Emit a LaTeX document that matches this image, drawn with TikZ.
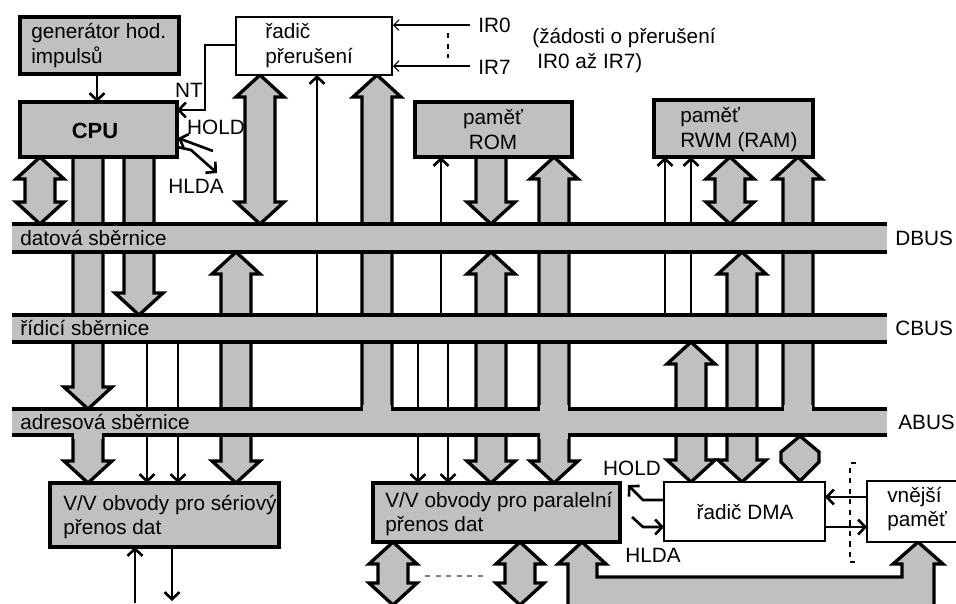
\documentclass[tikz,border=0pt]{standalone}
\usepackage{fontspec}
\setmainfont{Liberation Sans}
\usetikzlibrary{arrows.meta}
\definecolor{kBus}{RGB}{192,192,192}
\tikzset{
  fatline/.style={line width=1.9pt, line join=miter},
  busline/.style={line width=1.8pt},
  boxgray/.style={draw, line width=1.9pt, fill=kBus},
  boxwhite/.style={draw, line width=1.1pt, fill=white},
  sig/.style={line width=1.5pt, -{Straight Barb[length=4pt,width=8.5pt,line width=1.5pt]}},
  irsig/.style={line width=0.6pt, -{Straight Barb[length=3pt,width=6pt,line width=0.6pt]}},
  lbl/.style={inner sep=0pt, font=\fontsize{11.8}{14.2}\selectfont, align=left},
}
% fat arrow with one head: x, y of tail, y of head
\newcommand\fatone[3]{%
  \pgfmathsetmacro\hb{#3>#2 ? #3-22 : #3+22}
  \fill[kBus] (#1-15,#2) -- (#1-15,\hb) -- (#1-24,\hb) -- (#1,#3) -- (#1+24,\hb) -- (#1+15,\hb) -- (#1+15,#2) -- cycle;
  \draw[fatline] (#1-15,#2) -- (#1-15,\hb) -- (#1-24,\hb) -- (#1,#3) -- (#1+24,\hb) -- (#1+15,\hb) -- (#1+15,#2);
}
% fat arrow with two heads: x, y top, y bottom
\newcommand\fatboth[3]{%
  \filldraw[fatline, fill=kBus] (#1,#2) -- (#1+24,#2+22) -- (#1+15,#2+22) -- (#1+15,#3-22) -- (#1+24,#3-22) -- (#1,#3)
    -- (#1-24,#3-22) -- (#1-15,#3-22) -- (#1-15,#2+22) -- (#1-24,#2+22) -- cycle;
}
% bus band: y top, y bottom
\newcommand\drawbus[2]{%
  \fill[kBus] (12,#1) rectangle (887,#2);
  \draw[busline] (12,#1) -- (887,#1) (12,#2) -- (887,#2);
}
% fat arrow joining a bus line: x, y of the line
\newcommand\busjoin[2]{\fill[kBus] (#1-13.7,#2-4) rectangle (#1+13.7,#2+4);}
\begin{document}
\begin{tikzpicture}[x=0.02cm,y=-0.02cm]
  \useasboundingbox (0,0) rectangle (956,603);
  \clip (0,0) rectangle (956,603);
  \fill[white] (0,0) rectangle (956,603);

  % control lines from the CBUS
  \foreach \x/\ya/\yb in {317/315/75, 441/315/157, 665/315/157, 691/315/157,
                          147/342/483, 178/342/483, 418/342/483, 448/342/483}
    \draw[sig] (\x,\ya) -- (\x,\yb);

  % fat arrows
  \fatboth{40}{157}{224}
  \fatone{88}{157}{409}
  \fatone{139}{157}{315}
  \fatboth{260}{75}{224}
  \fatone{377}{409}{75}
  \fatone{491}{157}{224}
  \fatone{554}{409}{157}
  \fatboth{730}{157}{224}
  \fatone{798}{409}{157}
  \fatboth{236}{252}{483}
  \fatboth{491}{252}{483}
  \fatboth{742}{252}{482}
  \fatboth{691}{342}{482}
  \fatone{88}{435}{483}
  \fatone{554}{435}{483}
  \filldraw[fatline, fill=kBus] (800,436) -- (819,452) -- (819,462) -- (800,481) -- (781,462) -- (781,452) -- cycle;
  \fatboth{393}{542}{605}
  \fatboth{520}{542}{605}
  \fill[kBus] (568,620) -- (568,564) -- (558,564) -- (582,542) -- (606,564) -- (597,564) -- (597,577) -- (902,577)
    -- (902,564) -- (893,564) -- (918,542) -- (943,564) -- (934,564) -- (934,620) -- cycle;
  \draw[fatline] (568,620) -- (568,564) -- (558,564) -- (582,542) -- (606,564) -- (597,564) -- (597,577) -- (902,577)
    -- (902,564) -- (893,564) -- (918,542) -- (943,564) -- (934,564) -- (934,620);
  \draw[dashed, gray, line width=0.8pt] (425,576) -- (488,576);

  % buses
  \drawbus{224}{252}
  \drawbus{315}{342}
  \drawbus{409}{435}
  \busjoin{377}{409} \busjoin{554}{409} \busjoin{798}{409}
  \busjoin{88}{435} \busjoin{554}{435}

  \node[lbl, anchor=west] (dname) at (20,238) {datová sběrnice};
  \node[lbl, anchor=west] (cname) at (20,328) {řídicí sběrnice};
  \node[lbl, anchor=west] (aname) at (20,422) {adresová sběrnice};
  \node[lbl, anchor=west] (dbus) at (895,238) {DBUS};
  \node[lbl, anchor=west] (cbus) at (895,328) {CBUS};
  \node[lbl, anchor=west] (abus) at (898,422) {ABUS};

  % blocks
  \draw[boxgray] (20,17) rectangle (179,74);
  \draw[boxgray] (20,102) rectangle (177,157);
  \draw[boxwhite] (236,17) rectangle (392,75);
  \draw[boxgray] (415,102) rectangle (572,157);
  \draw[boxgray] (654,100) rectangle (813,157);
  \draw[boxgray] (50,483) rectangle (279,547);
  \draw[boxgray] (373,483) rectangle (620,542);
  \draw[boxwhite] (664,482) rectangle (825,541);
  \draw[boxwhite] (867,481) rectangle (975,542);

  \node[lbl, anchor=west] (gen) at (31,45.5) {generátor hod.\\impulsů};
  \node[lbl, font=\fontsize{12.5}{14.2}\selectfont\bfseries] (cpu) at (95,131) {CPU};
  \node[lbl, anchor=west] (intc) at (265,45.5) {řadič\\přerušení};
  \node[lbl, align=center] (rom) at (493,130) {paměť\\ROM};
  \node[lbl, anchor=west] (ram) at (680,130) {paměť\\RWM (RAM)};
  \node[lbl, anchor=west] (serio) at (63,517) {V/V obvody pro sériový\\přenos dat};
  \node[lbl, anchor=west] (pario) at (385,514) {V/V obvody pro paralelní\\přenos dat};
  \node[lbl] (dma) at (745,512) {řadič DMA};
  \node[lbl, anchor=west] (extmem) at (887,509) {vnější\\paměť};

  % CPU signals
  \draw[sig] (97,74) -- (97,102);
  \draw[sig] (236,45) -- (205,45) -- (205,110) -- (177,110);
  \draw[sig] (213,151) -- (178,138);
  \draw[sig] (177,147) -- (191,150) -- (217,173);
  \node[lbl] (nt) at (189,90) {NT};
  \node[lbl] (cpuhold) at (216,127) {HOLD};
  \node[lbl] (cpuhlda) at (196,186) {HLDA};

  % interrupt requests
  \draw[irsig] (470,25) -- (393,25);
  \draw[irsig] (470,66) -- (393,66);
  \draw[dashed, line width=0.8pt] (448,33) -- (448,58);
  \node[lbl, anchor=west] (ir0) at (478,25) {IR0};
  \node[lbl, anchor=west] (ir7) at (478,67) {IR7};
  \node[lbl, anchor=west] (irtxt) at (532,38) {(žádosti o přerušení};
  \node[lbl, anchor=west] (irtxtb) at (537,63) {IR0 až IR7)};

  % DMA signals
  \draw[sig] (664,500) -- (643,500) -- (628,485);
  \draw[sig] (632,517) -- (643,527) -- (664,527);
  \node[lbl] (dmahold) at (632,468) {HOLD};
  \node[lbl] (dmahlda) at (653,555) {HLDA};
  \draw[sig] (867,497) -- (825,497);
  \draw[sig] (825,527) -- (867,527);
  \draw[dashed, line width=1pt] (856,463) -- (850,463) -- (850,562) -- (855,562);

  % serial lines
  \draw[sig] (135,603) -- (135,547);
  \draw[sig] (172,547) -- (172,601);
\end{tikzpicture}
\end{document}
